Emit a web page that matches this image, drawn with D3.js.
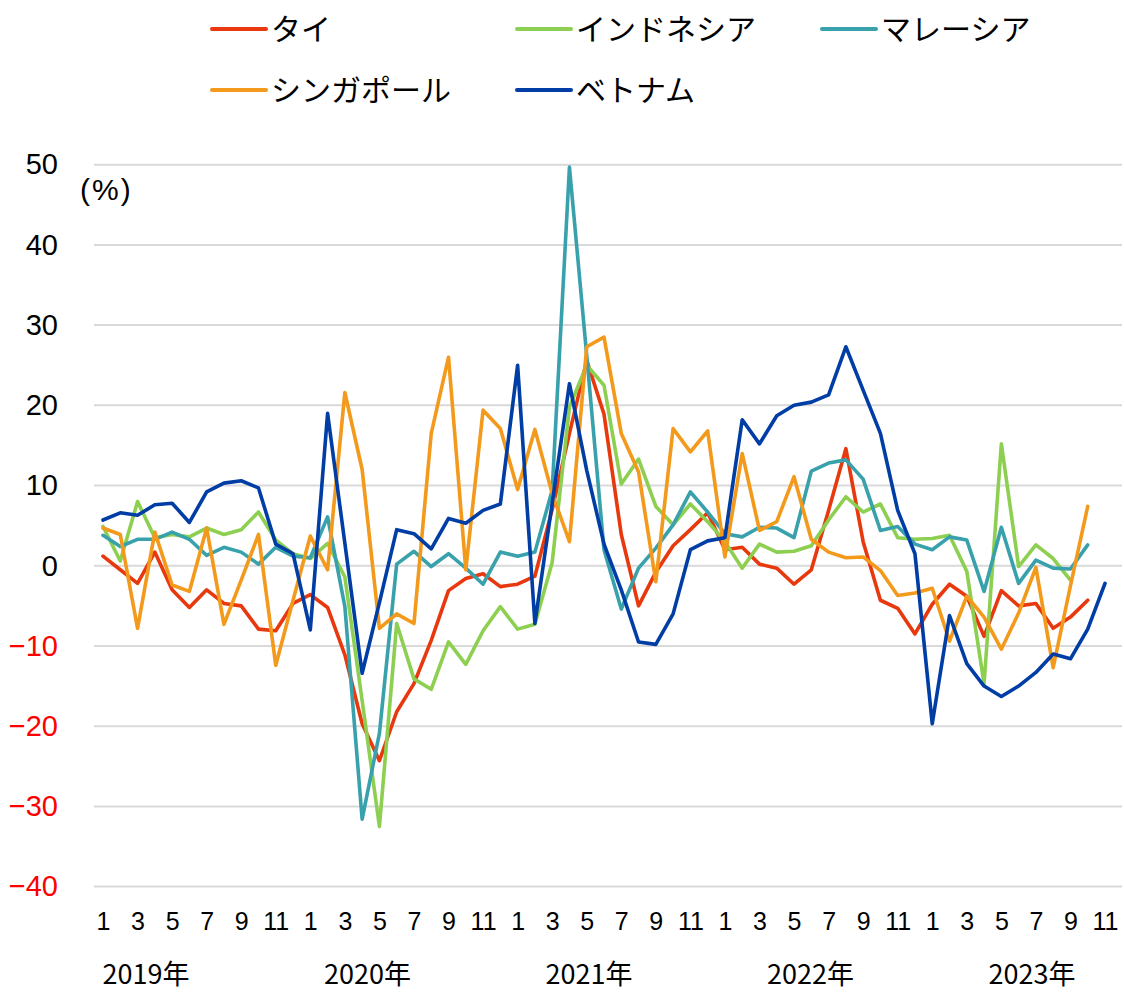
<!DOCTYPE html>
<html>
<head>
<meta charset="utf-8">
<script src="https://cdn.jsdelivr.net/npm/d3@7/dist/d3.min.js"></script>
<style>
  html, body { margin: 0; padding: 0; background: #fff; }
  svg { display: block; }
</style>
</head>
<body>
<svg id="chart" width="1125" height="992"></svg>
<script>
// ---- data (monthly, Jan 2019 .. Nov 2023) ----
const years = [2019, 2020, 2021, 2022, 2023];
const monthLabels = ["1","2","3","4","5","6","7","8","9","10","11","12"];
const yTicks = [50, 40, 30, 20, 10, 0, -10, -20, -30, -40];
const seriesNames = ["タイ", "インドネシア", "マレーシア", "シンガポール", "ベトナム"];
const seriesColors = ["#E8380D", "#8DCF50", "#38A1AC", "#F39A1C", "#003DA5"];

const thailand = [1.2,-0.5,-2.2,1.7,-3.0,-5.2,-3.0,-4.7,-5.0,-7.9,-8.1,-4.7,
  -3.6,-5.2,-11.1,-19.7,-24.3,-18.2,-14.7,-9.3,-3.1,-1.6,-1.0,-2.6,
  -2.3,-1.3,7.0,16.5,25.6,18.9,3.9,-5.0,-0.8,2.5,4.5,6.6,
  2.0,2.3,0.2,-0.3,-2.3,-0.5,6.9,14.6,3.0,-4.3,-5.3,-8.5,
  -4.8,-2.3,-3.8,-8.8,-3.1,-5.0,-4.7,-7.8,-6.4,-4.3];
const indonesia = [4.9,0.6,8.0,3.5,3.9,3.6,4.7,3.9,4.5,6.7,3.2,1.5,
  0.9,2.8,-1.4,-16.8,-32.5,-7.2,-14.1,-15.4,-9.5,-12.3,-8.1,-5.1,
  -7.9,-7.3,0.4,19.8,25.0,22.5,10.2,13.3,7.4,5.1,7.7,5.5,
  3.0,-0.3,2.7,1.7,1.8,2.5,5.7,8.6,6.7,7.7,3.5,3.3,
  3.4,3.8,-0.7,-14.7,15.2,-0.1,2.6,0.9,-1.8];
const malaysia = [3.8,2.4,3.3,3.3,4.2,3.3,1.3,2.3,1.7,0.2,2.3,1.2,
  1.0,6.1,-5.1,-31.6,-20.9,0.2,1.8,-0.1,1.5,-0.3,-2.3,1.7,
  1.2,1.7,9.4,49.7,26.2,2.0,-5.4,-0.3,2.2,5.1,9.2,6.7,
  4.0,3.6,4.8,4.7,3.5,11.8,12.8,13.2,10.8,4.4,4.9,2.7,
  2.0,3.6,3.2,-3.2,4.8,-2.2,0.7,-0.3,-0.4,2.6];
const singapore = [4.7,3.9,-7.8,4.2,-2.4,-3.2,4.7,-7.3,-1.8,3.9,-12.4,-4.3,
  3.7,-0.5,21.6,12.0,-7.8,-6.0,-7.2,16.5,26.0,-0.5,19.4,17.1,
  9.5,17.0,9.0,3.0,27.3,28.5,16.5,11.7,-2.0,17.1,14.2,16.8,
  1.1,14.0,4.4,5.5,11.1,3.3,1.7,1.0,1.1,-0.6,-3.7,-3.4,
  -2.8,-9.4,-3.8,-6.4,-10.4,-5.9,-0.2,-12.7,-2.5,7.4];
const vietnam = [5.7,6.6,6.3,7.6,7.8,5.4,9.2,10.3,10.6,9.7,2.7,1.5,
  -8.0,19.0,2.8,-13.4,-4.6,4.5,4.0,2.1,5.9,5.3,6.9,7.7,
  25.0,-7.2,7.8,22.7,11.9,2.7,-3.0,-9.5,-9.8,-6.0,2.0,3.1,
  3.5,18.2,15.2,18.7,20.0,20.4,21.3,27.3,21.9,16.5,6.9,1.5,
  -19.7,-6.2,-12.2,-15.0,-16.3,-15.0,-13.3,-11.0,-11.6,-7.9,-2.2];

const seriesValues = [thailand, indonesia, malaysia, singapore, vietnam];

// month keys
const months = [];
years.forEach(y => monthLabels.forEach((m, mi) => {
  if (y === 2023 && mi > 10) return;
  months.push(y + "-" + m);
}));

// ---- layout ----
const svg = d3.select("#chart");
const numFont = "'Liberation Sans', Arial, sans-serif";
const jpFont = "'Noto Sans CJK JP', 'Noto Sans', sans-serif";

const x = d3.scalePoint().domain(months).range([103, 1105]);
const y = d3.scaleLinear().domain([-40, 50]).range([886.6, 164.7]);

// gridlines
svg.append("g").selectAll("line").data(yTicks).join("line")
  .attr("x1", 94).attr("x2", 1122)
  .attr("y1", d => y(d)).attr("y2", d => y(d))
  .attr("stroke", "#d9d9d9").attr("stroke-width", 2);

// y axis labels
const yAxis = d3.axisLeft(y).tickValues(yTicks).tickSize(0).tickPadding(0);
const gy = svg.append("g").attr("transform", "translate(58,0)").call(yAxis);
gy.select(".domain").remove();
gy.selectAll("text")
  .attr("font-family", numFont).attr("font-size", 29)
  .attr("fill", d => d < 0 ? "#FF0000" : "#000");

svg.append("text").attr("x", 80).attr("y", 200)
  .attr("font-family", numFont).attr("font-size", 30).attr("letter-spacing", 2)
  .text("(%)");

// x axis month labels (odd months)
const xAxis = d3.axisBottom(x)
  .tickValues(months.filter((m, i) => i % 2 === 0))
  .tickFormat(m => m.split("-")[1])
  .tickSize(0).tickPadding(0);
const gx = svg.append("g").attr("transform", "translate(0,912)").call(xAxis);
gx.select(".domain").remove();
gx.selectAll("text").attr("font-family", numFont).attr("font-size", 25).attr("fill", "#000");

// year labels
const yearX = d3.scaleLinear().domain([0, 4]).range([146, 1032]);
svg.append("g").selectAll("text").data(years).join("text")
  .attr("x", (d, i) => yearX(i)).attr("y", 984)
  .attr("text-anchor", "middle")
  .attr("font-family", jpFont).attr("font-size", 27).attr("fill", "#000")
  .text(d => d + "年");

// lines
const line = d3.line().x((d, i) => x(months[i])).y(d => y(d));
svg.append("g").selectAll("path").data(seriesValues).join("path")
  .attr("d", d => line(d))
  .attr("fill", "none")
  .attr("stroke", (d, i) => seriesColors[i])
  .attr("stroke-width", 3.6)
  .attr("stroke-linejoin", "round")
  .attr("stroke-linecap", "round");

// legend
const legendPos = [[212, 29], [517, 29], [822, 29], [212, 90], [517, 90]];
const lg = svg.append("g").selectAll("g").data(seriesNames).join("g")
  .attr("transform", (d, i) => `translate(${legendPos[i][0]},${legendPos[i][1]})`);
lg.append("line").attr("x1", 0).attr("x2", 54).attr("y1", 0).attr("y2", 0)
  .attr("stroke", (d, i) => seriesColors[i]).attr("stroke-width", 4)
  .attr("stroke-linecap", "round");
lg.append("text").attr("x", 59).attr("y", 0).attr("dy", "0.36em")
  .attr("font-family", jpFont).attr("font-size", 30).attr("fill", "#000")
  .text(d => d);
</script>
</body>
</html>
